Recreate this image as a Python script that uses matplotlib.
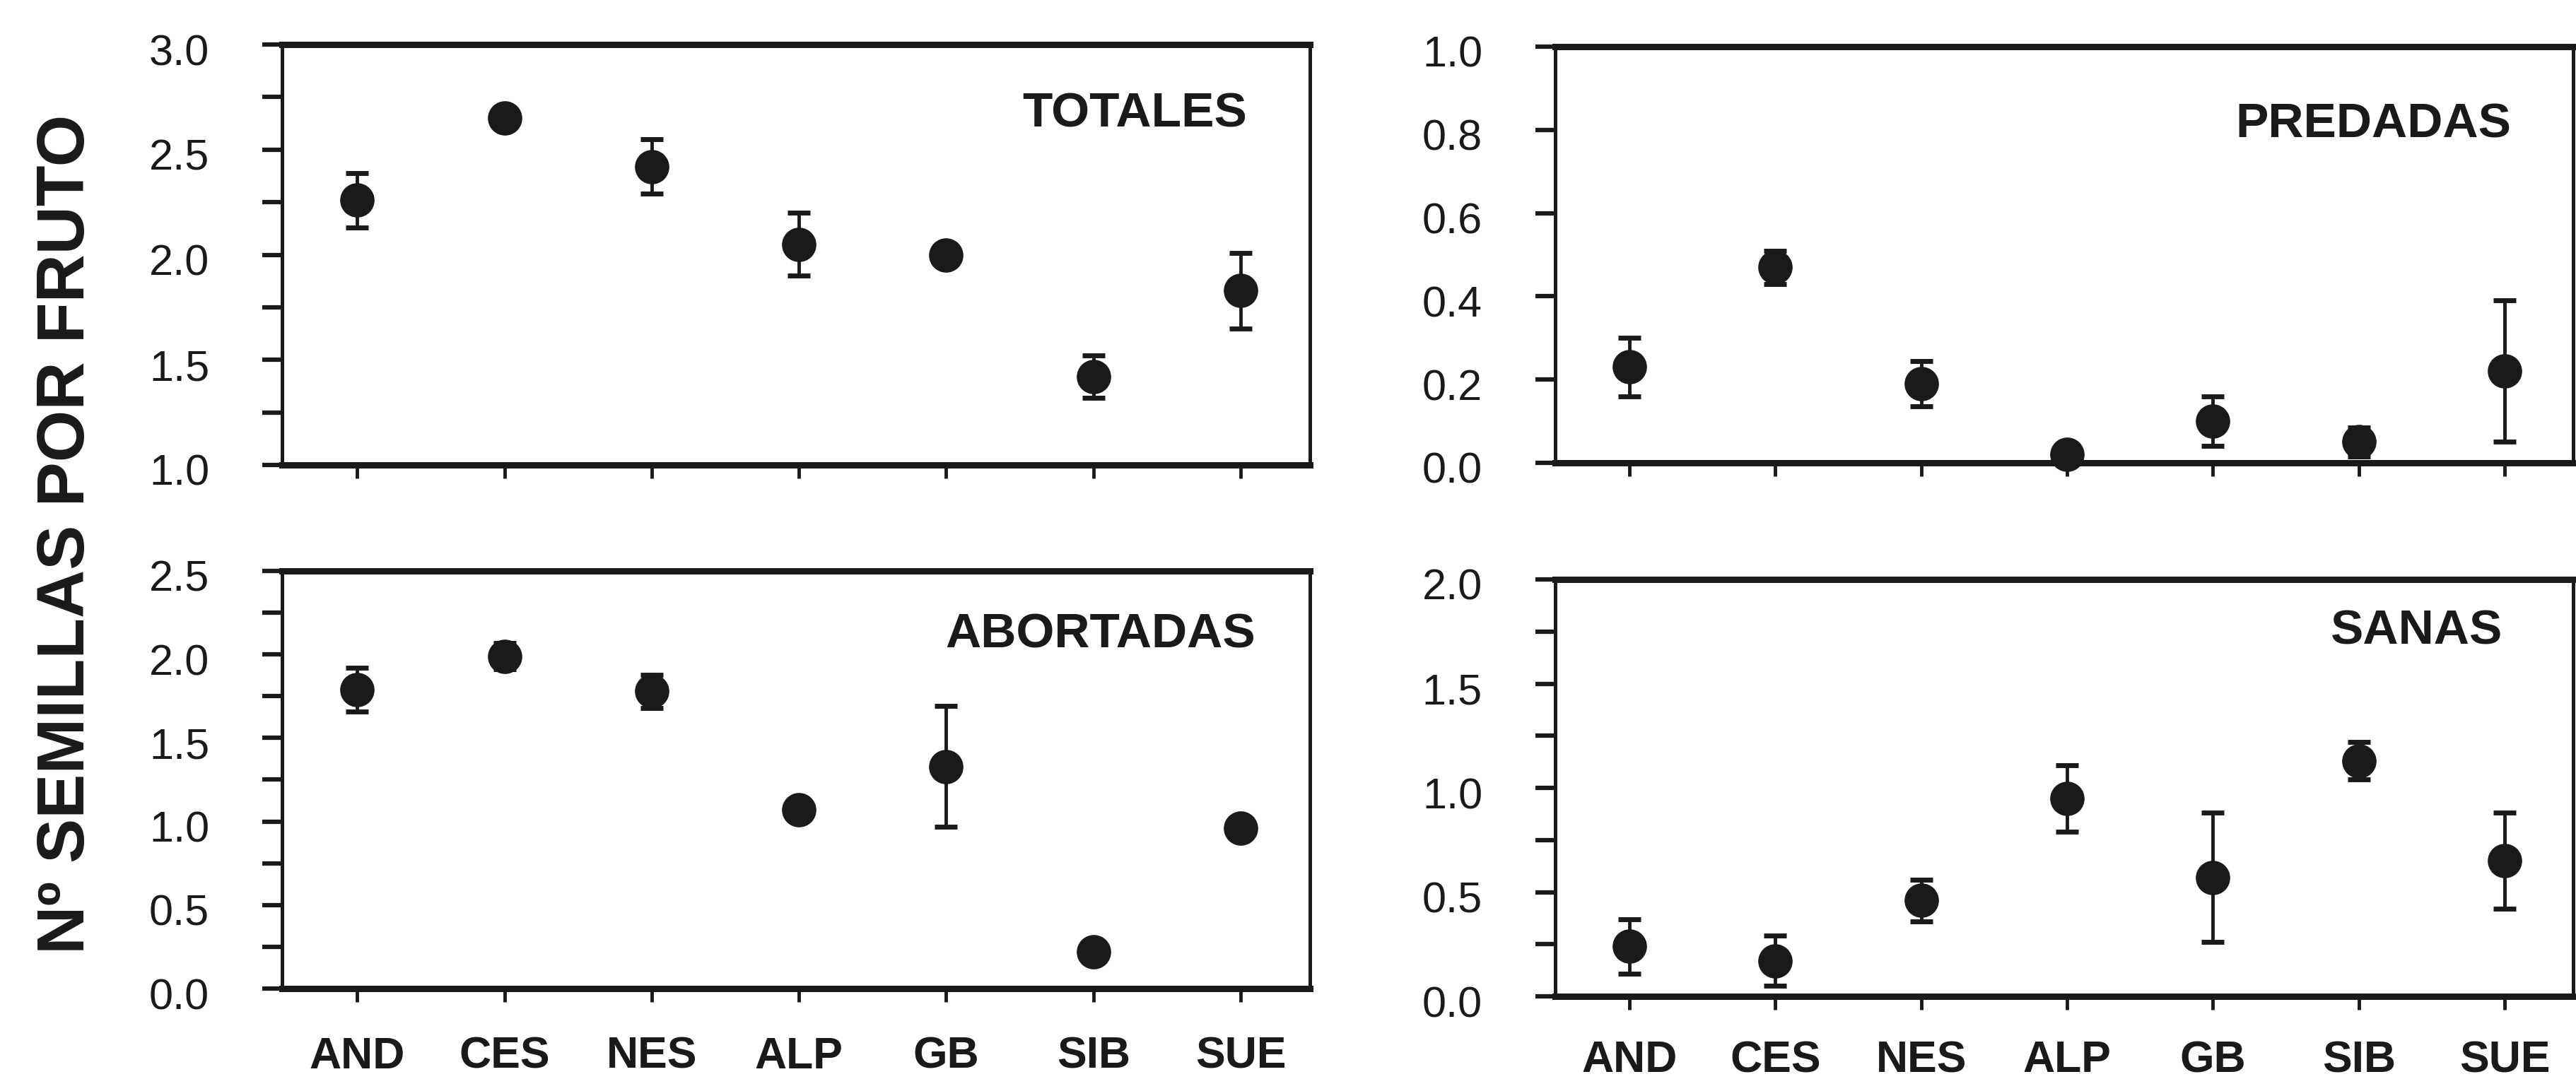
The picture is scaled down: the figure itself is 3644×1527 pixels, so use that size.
import matplotlib
matplotlib.use("Agg")
import matplotlib.pyplot as plt
from matplotlib.ticker import MultipleLocator, FormatStrFormatter
from matplotlib.transforms import ScaledTranslation

plt.rcParams['font.family'] = ['Liberation Sans', 'DejaVu Sans']

# poblaciones
poblaciones = ['AND', 'CES', 'NES', 'ALP', 'GB', 'SIB', 'SUE']

# semillas por fruto: media y error
totales = [2.26, 2.65, 2.42, 2.05, 2.00, 1.42, 1.83]
totales_err = [0.13, 0.0, 0.13, 0.15, 0.0, 0.10, 0.18]

predadas = [0.23, 0.47, 0.19, 0.02, 0.10, 0.05, 0.22]
predadas_err = [0.07, 0.04, 0.055, 0.0, 0.06, 0.035, 0.17]

abortadas = [1.79, 1.99, 1.78, 1.07, 1.33, 0.22, 0.96]
abortadas_err = [0.13, 0.08, 0.10, 0.0, 0.36, 0.0, 0.0]

sanas = [0.24, 0.17, 0.46, 0.95, 0.57, 1.13, 0.65]
sanas_err = [0.13, 0.12, 0.10, 0.16, 0.31, 0.09, 0.23]

fig = plt.figure(figsize=(36.44, 15.27), dpi=100)

paneles = [
    # (rect, media, error, titulo, ylim, paso mayor, paso menor, pos titulo, etiquetas x, pad x)
    ([0.1095, 0.5691, 0.3990, 0.3896], totales, totales_err, 'TOTALES', (1, 3), 0.5, 0.25, (0.939, 0.834), False, 34),
    ([0.6037, 0.5711, 0.3952, 0.3857], predadas, predadas_err, 'PREDADAS', (0, 1), 0.2, None, (0.939, 0.812), False, 34),
    ([0.1095, 0.0838, 0.3990, 0.3871], abortadas, abortadas_err, 'ABORTADAS', (0, 2.5), 0.5, 0.25, (0.947, 0.846), True, 34),
    ([0.6037, 0.0766, 0.3952, 0.3864], sanas, sanas_err, 'SANAS', (0, 2), 0.5, 0.25, (0.931, 0.876), True, 30),
]

x = list(range(len(poblaciones)))

for rect, media, err, titulo, ylim, mayor, menor, tpos, con_etiquetas, xpad in paneles:
    ax = fig.add_axes(rect)
    ax.errorbar(x, media, yerr=err, fmt='o', color='#1a1a1a', markersize=34,
                elinewidth=3.5, capsize=11.5, capthick=5, clip_on=False, zorder=5)
    ax.set_xlim(-0.51, 6.47)
    ax.set_ylim(*ylim)
    ax.yaxis.set_major_locator(MultipleLocator(mayor))
    if menor:
        ax.yaxis.set_minor_locator(MultipleLocator(menor))
        ax.tick_params(axis='y', which='minor', direction='out', length=20, width=4.5, color='#1a1a1a')
    ax.yaxis.set_major_formatter(FormatStrFormatter('%.1f'))
    ax.tick_params(axis='y', which='major', direction='out', length=20, width=4.5,
                   color='#1a1a1a', labelsize=44, pad=54, labelcolor='#1a1a1a')
    ax.set_xticks(x)
    ax.tick_params(axis='x', direction='out', length=14, width=3.5, color='#1a1a1a',
                   labelsize=45, pad=xpad, labelcolor='#1a1a1a')
    if con_etiquetas:
        ax.set_xticklabels(poblaciones, fontweight='bold')
    else:
        ax.set_xticklabels([])

    for lado in ['top', 'bottom']:
        ax.spines[lado].set_linewidth(6.5)
    for lado in ['left', 'right']:
        ax.spines[lado].set_linewidth(3.6)
    for s in ax.spines.values():
        s.set_color('#1a1a1a')

    # etiquetas del eje y algo por debajo de su marca
    for lab in ax.get_yticklabels():
        lab.set_transform(lab.get_transform() + ScaledTranslation(0, -0.07, fig.dpi_scale_trans))

    ax.text(tpos[0], tpos[1], titulo, transform=ax.transAxes, ha='right', va='center',
            fontsize=50, fontweight='bold', color='#1a1a1a')

fig.text(0.026, 0.505, 'Nº SEMILLAS POR FRUTO', rotation=90, ha='center', va='center',
         fontsize=68, fontweight='bold', color='#1a1a1a')

fig.savefig('out.png', dpi=100, facecolor='white')
